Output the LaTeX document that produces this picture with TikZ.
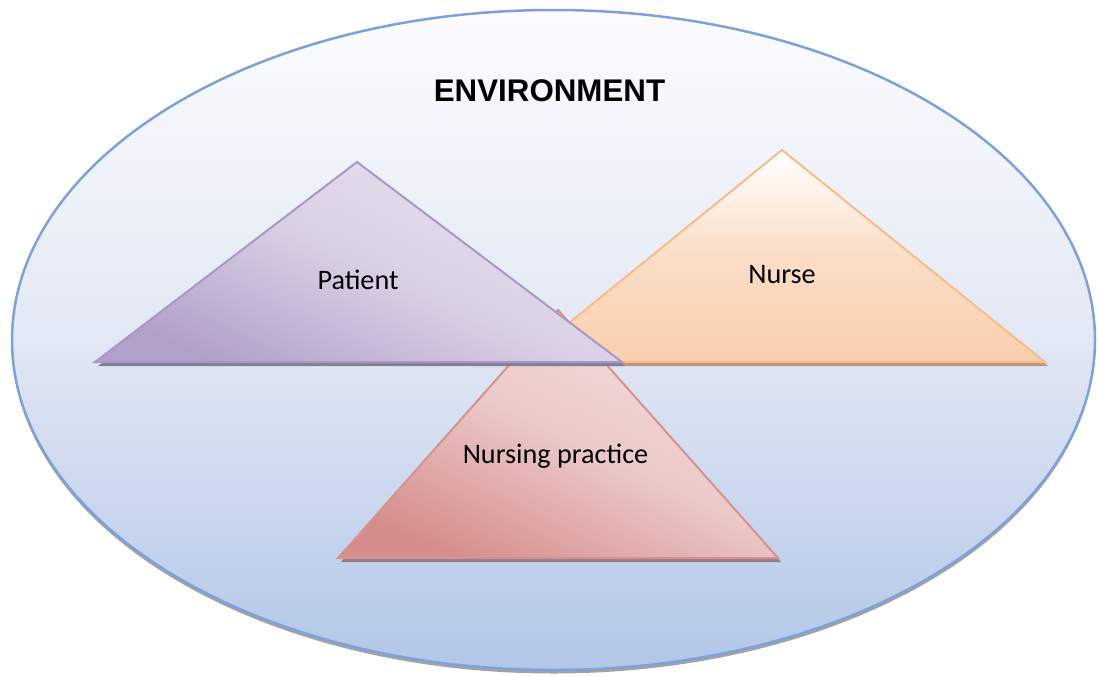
\documentclass[tikz,border=0pt]{standalone}
\usepackage{fontspec}
\setmainfont{Carlito}
\newfontfamily\headfont{Liberation Sans}
\begin{document}
\definecolor{envline}{HTML}{7FA1D9}
\definecolor{envtop}{HTML}{FCFCFE}
\definecolor{envmid}{HTML}{E2E8F4}
\definecolor{envbot}{HTML}{B2C6E8}
\definecolor{patline}{HTML}{A898C8}
\definecolor{patdark}{HTML}{B3A0CA}
\definecolor{patmid}{HTML}{D9CFE4}
\definecolor{patlight}{HTML}{E8E2EF}
\definecolor{patshadow}{HTML}{857F96}
\definecolor{nurline}{HTML}{F8BC88}
\definecolor{nurlight}{HTML}{FFFFFF}
\definecolor{nurdark}{HTML}{F9CFAE}
\definecolor{nurshadow}{HTML}{B9967E}
\definecolor{npline}{HTML}{D69291}
\definecolor{npdark}{HTML}{D68E8D}
\definecolor{npmid}{HTML}{EBC9C8}
\definecolor{nplight}{HTML}{F3DEDD}
\definecolor{npshadow}{HTML}{8E7E8C}
\begin{tikzpicture}[x=1pt,y=-1pt,
  label/.style={font=\fontsize{28.2}{30}\selectfont, text=black, anchor=base, inner sep=0pt},
  outline/.style={line width=2pt, line join=miter}]
\useasboundingbox (0,0) rectangle (1098,677);

% environment ellipse with its drop shadow
\fill[black!45, opacity=0.8] (553.5,343.5) ellipse [x radius=541.5, y radius=330];
\shade[top color=envtop, bottom color=envbot, middle color=envmid, draw=envline, line width=2.5pt]
  (553.5,340) ellipse [x radius=541.5, y radius=330];
\node[font=\headfont\bfseries\fontsize{31.3}{34}\selectfont, anchor=base, inner sep=0pt] (env) at (549.5,102) {ENVIRONMENT};

% triangle corners
\coordinate (npA) at (558,310);
\coordinate (npL) at (338,558);
\coordinate (npR) at (778,558);
\coordinate (nuA) at (782,150);
\coordinate (nuL) at (521,362);
\coordinate (nuR) at (1045,362);
\coordinate (paA) at (357,162);
\coordinate (paL) at (95,362);
\coordinate (paR) at (622,362);

% nursing practice
\fill[npshadow] ([shift={(3,4)}]npL) -- ([shift={(3,4)}]npA) -- ([shift={(3,4)}]npR) -- cycle;
\shade[shading=axis, bottom color=npdark, top color=nplight, middle color=npmid, shading angle=-25, draw=npline, outline]
  (npL) -- (npA) -- (npR) -- cycle;

% nurse
\fill[nurshadow] ([shift={(3,4)}]nuL) -- ([shift={(3,4)}]nuA) -- ([shift={(3,4)}]nuR) -- cycle;
\shade[top color=nurlight, bottom color=nurdark, middle color=nurdark!70, draw=nurline, outline]
  (nuL) -- (nuA) -- (nuR) -- cycle;

% patient
\fill[patshadow] ([shift={(3,4)}]paL) -- ([shift={(3,4)}]paA) -- ([shift={(3,4)}]paR) -- cycle;
\shade[shading=axis, bottom color=patdark, top color=patlight, middle color=patmid, shading angle=-25, draw=patline, outline]
  (paL) -- (paA) -- (paR) -- cycle;

\node[label] (patient) at (358,289) {Patient};
\node[label] (nurse) at (782,283) {Nurse};
\node[label] (practice) at (555.5,463) {Nursing practice};
\end{tikzpicture}
\end{document}
